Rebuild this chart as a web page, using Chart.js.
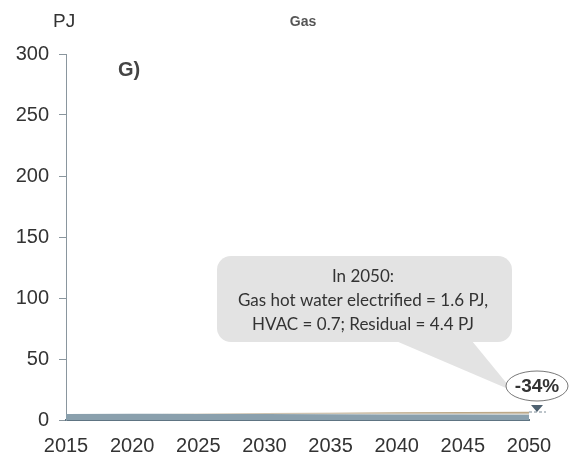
<!DOCTYPE html>
<html>
<head>
<meta charset="utf-8">
<script src="https://cdn.jsdelivr.net/npm/chart.js@4.4.1/dist/chart.umd.min.js"></script>
<style>
    body { margin: 0; background: #fff; }
    canvas { display: block; }
</style>
</head>
<body>
<canvas id="gasChart" width="574" height="457"></canvas>
<script>
// Gas demand, PJ
const years = [2015, 2020, 2022, 2025, 2030, 2035, 2040, 2045, 2050];
const residual = [5.0, 5.1, 5.1, 5.0, 4.9, 4.8, 4.6, 4.5, 4.4];
const hvacElectrified = [0, 0, 0, 0.1, 0.2, 0.3, 0.5, 0.6, 0.7];
const hotWaterElectrified = [0, 0, 0.1, 0.3, 0.6, 0.9, 1.2, 1.4, 1.6];
const yTicks = [0, 50, 100, 150, 200, 250, 300];
const calloutLines = ['In 2050:', 'Gas hot water electrified = 1.6 PJ,', 'HVAC = 0.7; Residual = 4.4 PJ'];
const changeLabel = '-34%';

const tickFont = { family: '"Liberation Sans", Arial, sans-serif', size: 20 };

function points(values) {
    return values.map((v, i) => ({ x: years[i], y: v }));
}

// titles, callout bubble and the -34% marker
const annotations = {
    id: 'annotations',
    afterDraw(chart) {
        const c = chart.ctx;
        const xs = chart.scales.x;
        const ys = chart.scales.y;
        c.save();

        c.fillStyle = '#333';
        c.font = '19px "Liberation Sans", Arial, sans-serif';
        c.textAlign = 'left';
        c.textBaseline = 'middle';
        c.fillText('PJ', 53, 22);

        c.fillStyle = '#555';
        c.font = 'bold 14px "Liberation Sans", Arial, sans-serif';
        c.textAlign = 'center';
        c.fillText('Gas', 303, 22);

        c.fillStyle = '#444';
        c.font = 'bold 20px "Liberation Sans", Arial, sans-serif';
        c.textAlign = 'left';
        c.fillText('G)', 118, 70);

        // marker position follows the 2050 point
        const mx = xs.getPixelForValue(2050) + 8;
        const my = ys.getPixelForValue(0) - 34;

        // callout bubble with its tail
        c.fillStyle = '#e3e3e3';
        c.beginPath();
        c.moveTo(396, 341);
        c.lineTo(472, 341);
        c.lineTo(mx - 24, my + 5);
        c.closePath();
        c.fill();
        c.beginPath();
        c.roundRect(217, 256, 295, 86, 14);
        c.fill();

        c.fillStyle = '#333';
        c.font = '17px Lato, "Open Sans", sans-serif';
        c.textAlign = 'center';
        calloutLines.forEach((t, i) => c.fillText(t, 363, 277 + i * 24));

        // dashed lead and pointer to the 2050 stack
        c.strokeStyle = '#7a8a95';
        c.lineWidth = 1;
        c.setLineDash([3, 2]);
        c.beginPath();
        c.moveTo(mx - 8, my + 26);
        c.lineTo(mx + 9, my + 26);
        c.stroke();
        c.setLineDash([]);
        c.fillStyle = '#4e6170';
        c.beginPath();
        c.moveTo(mx - 6, my + 19);
        c.lineTo(mx + 6, my + 19);
        c.lineTo(mx, my + 26);
        c.closePath();
        c.fill();

        c.fillStyle = '#fff';
        c.strokeStyle = '#777';
        c.beginPath();
        c.ellipse(mx, my, 31, 15, 0, 0, Math.PI * 2);
        c.fill();
        c.stroke();
        c.fillStyle = '#333';
        c.font = 'bold 19px "Liberation Sans", Arial, sans-serif';
        c.textAlign = 'center';
        c.fillText(changeLabel, mx, my + 1);

        c.restore();
    }
};

const chart = new Chart(document.getElementById('gasChart').getContext('2d'), {
    type: 'line',
    data: {
        datasets: [{
            label: 'Residual',
            data: points(residual),
            backgroundColor: '#8aa0ad',
            borderWidth: 0,
            fill: 'origin',
            pointRadius: 0
        }, {
            label: 'HVAC electrified',
            data: points(hvacElectrified),
            backgroundColor: '#dcdcd6',
            borderWidth: 0,
            fill: '-1',
            pointRadius: 0
        }, {
            label: 'Gas hot water electrified',
            data: points(hotWaterElectrified),
            backgroundColor: '#bca888',
            borderWidth: 0,
            fill: '-1',
            pointRadius: 0
        }]
    },
    options: {
        responsive: false,
        animation: false,
        layout: { padding: { top: 54, right: 45, bottom: 0, left: 0 } },
        plugins: {
            legend: { display: false },
            tooltip: { enabled: false }
        },
        scales: {
            x: {
                type: 'linear',
                min: 2015,
                max: 2050,
                grid: { display: false },
                border: { color: '#5e7482', width: 2 },
                afterFit: (s) => { s.height = 37; },
                ticks: {
                    stepSize: 5,
                    color: '#333',
                    font: tickFont,
                    padding: 6,
                    maxRotation: 0,
                    callback: (v) => String(v)
                }
            },
            y: {
                stacked: true,
                min: 0,
                max: 300,
                afterFit: (s) => { s.width = 66; },
                afterBuildTicks: (s) => { s.ticks = yTicks.map(v => ({ value: v })); },
                grid: { drawOnChartArea: false, tickLength: 7, color: '#8a969e' },
                border: { color: '#8a969e' },
                ticks: { color: '#333', font: tickFont, padding: 10 }
            }
        }
    },
    plugins: [annotations]
});
</script>
</body>
</html>
